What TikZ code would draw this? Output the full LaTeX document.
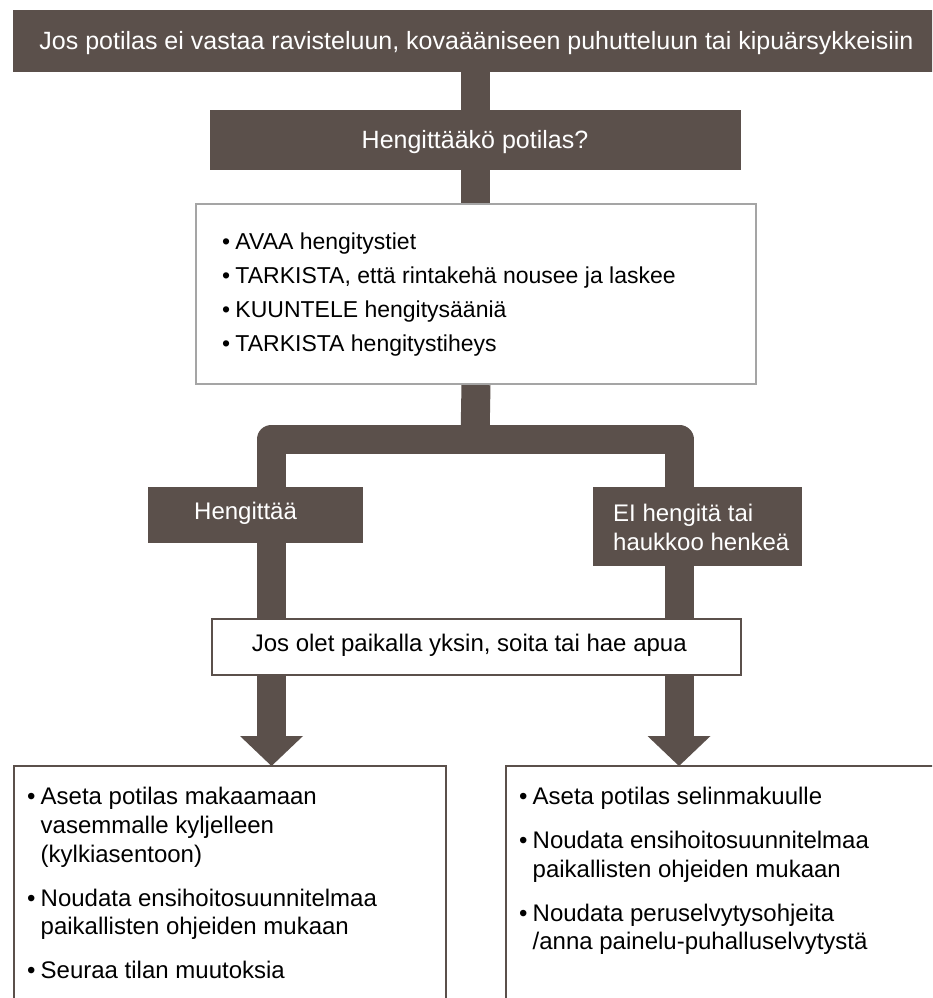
\documentclass[tikz,border=0pt]{standalone}
\usepackage{fontspec}
\setmainfont{Liberation Sans}
\usetikzlibrary{arrows.meta,backgrounds}
\definecolor{dk}{HTML}{5B504B}
\definecolor{gr}{HTML}{A5A5A5}
\newcommand\bul{\makebox[13.5pt][l]{•}}
\newcommand\ind{\hspace*{13.5pt}}
\begin{document}
\begin{tikzpicture}[x=1pt,y=-1pt,
  dark/.style={fill=dk,text=white,inner sep=0pt},
  wbox/.style={fill=white,draw=dk,line width=2pt,inner sep=0pt,text=black},
  gbox/.style={fill=white,draw=gr,line width=2pt,inner sep=0pt,text=black},
  big/.style={font=\fontsize{25}{29}\selectfont,text height=17.9pt,text depth=0pt},
  conn/.style={draw=dk,line width=29pt,line join=round},
  dtip/.style={{Triangle[width=63pt,length=30pt,line width=0pt]}-{Triangle[width=63pt,length=30pt,line width=0pt]}}]
\useasboundingbox (0,0) rectangle (932,998);
\clip (0,0) rectangle (932,998);

\node[dark,big,minimum width=927pt,minimum height=62pt] (top) at (476.5,41)
  {Jos potilas ei vastaa ravisteluun, kovaääniseen puhutteluun tai kipuärsykkeisiin};

\node[dark,big,minimum width=531pt,minimum height=60pt] (q) at (475,140)
  {Hengittääkö potilas?};

\node[gbox,anchor=north west] (bul) at (195,203)
  {\begin{minipage}[t][180pt][t]{560pt}\fontsize{23}{34.3}\selectfont\raggedright\leftskip=26pt
   \rule{0pt}{45pt}\bul AVAA hengitystiet\\
   \bul TARKISTA, että rintakehä nousee ja laskee\\
   \bul KUUNTELE hengitysääniä\\
   \bul TARKISTA hengitystiheys
   \end{minipage}};

\node[dark,anchor=north west] (hen) at (148,487)
  {\begin{minipage}[t][56pt][t]{215pt}\fontsize{24}{29}\selectfont\raggedright\leftskip=46pt
   \rule{0pt}{32.6pt}Hengittää
   \end{minipage}};

\node[dark,anchor=north west] (ei) at (593,487)
  {\begin{minipage}[t][79pt][t]{209pt}\fontsize{24}{29}\selectfont\raggedright\leftskip=20pt
   \rule{0pt}{34.6pt}EI hengitä tai\\
   haukkoo henkeä
   \end{minipage}};

\node[wbox,line width=1.6pt,anchor=north west] (apu) at (211,618)
  {\begin{minipage}[t][56pt][t]{529pt}\fontsize{24}{29}\selectfont\raggedright\leftskip=40pt
   \rule{0pt}{32.6pt}Jos olet paikalla yksin, soita tai hae apua
   \end{minipage}};

\node[wbox,anchor=north west] (lb) at (13,765)
  {\begin{minipage}[t][300pt][t]{432pt}\fontsize{24}{28.7}\selectfont\raggedright\leftskip=13.2pt
   \rule{0pt}{38.6pt}\bul Aseta potilas makaamaan\\
   \ind vasemmalle kyljelleen\\
   \ind (kylkiasentoon)\\[15.3pt]
   \bul Noudata ensihoitosuunnitelmaa\\
   \ind paikallisten ohjeiden mukaan\\[15.3pt]
   \bul Seuraa tilan muutoksia
   \end{minipage}};

\node[wbox,anchor=north west] (rb) at (505,765)
  {\begin{minipage}[t][300pt][t]{440pt}\fontsize{24}{28.5}\selectfont\raggedright\leftskip=13.2pt
   \rule{0pt}{38.6pt}\bul Aseta potilas selinmakuulle\\[15.5pt]
   \bul Noudata ensihoitosuunnitelmaa\\
   \ind paikallisten ohjeiden mukaan\\[15.5pt]
   \bul Noudata peruselvytysohjeita\\
   \ind /anna painelu-puhalluselvytystä
   \end{minipage}};

\coordinate (j) at (475,439);
\coordinate (barL) at (271.5,439);
\coordinate (barR) at (679,439);

\begin{pgfonlayer}{background}
  \fill[white] (0,0) rectangle (932,998);
  \draw[conn] (top.south -| q.north) -- (q.north);
  \draw[conn] (q.south) -- (q.south |- bul.north);
  \draw[conn] (bul.south) -- (j);
  \draw[conn,dtip] ([yshift=-1pt]lb.north -| barL) |- (barR) -- ([yshift=-1pt]rb.north -| barR);
\end{pgfonlayer}
\end{tikzpicture}
\end{document}
